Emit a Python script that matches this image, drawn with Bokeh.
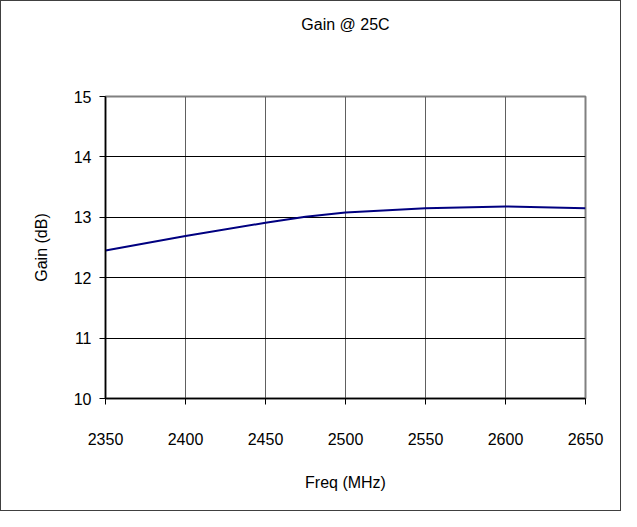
from bokeh.plotting import figure
from bokeh.models import Range1d, FixedTicker, LinearAxis
from bokeh.embed import file_html
from bokeh.resources import INLINE

freq = [2350, 2400, 2450, 2475, 2500, 2550, 2600, 2650]
gain = [12.45, 12.69, 12.91, 13.01, 13.08, 13.15, 13.18, 13.15]
x_ticks = [2350, 2400, 2450, 2500, 2550, 2600, 2650]
y_ticks = [10, 11, 12, 13, 14, 15]
chart_title = "Gain @ 25C"

FONT = "Liberation Sans"

p = figure(width=619, height=509, output_backend="svg", toolbar_location=None,
           x_range=Range1d(2350, 2650), y_range=Range1d(10, 15),
           min_border_left=104, min_border_right=35, min_border_top=95, min_border_bottom=112)
p.frame_width = 480
p.frame_height = 302

p.background_fill_color = "white"
p.border_fill_color = "white"
p.outline_line_color = "#808080"
p.outline_line_width = 2
p.styles = {"border": "1px solid #404040"}

xaxis = p.below[0]
yaxis = p.left[0]

for ax in (xaxis, yaxis):
    ax.axis_line_color = "black"
    ax.axis_line_width = 1.5
    ax.major_tick_line_color = "black"
    ax.major_tick_out = 6
    ax.major_tick_in = 0
    ax.minor_tick_line_color = None
    ax.major_label_text_font = FONT
    ax.major_label_text_font_size = "16px"
    ax.major_label_text_color = "black"
    ax.axis_label_text_font = FONT
    ax.axis_label_text_font_size = "16px"
    ax.axis_label_text_font_style = "normal"
    ax.axis_label_text_color = "black"

xaxis.ticker = FixedTicker(ticks=x_ticks)
yaxis.ticker = FixedTicker(ticks=y_ticks)
xaxis.axis_label = "Freq (MHz)"
yaxis.axis_label = "Gain (dB)"
xaxis.major_label_standoff = 28
xaxis.axis_label_standoff = 26
yaxis.major_label_standoff = 8
yaxis.axis_label_standoff = 21

# chart title, drawn as the label of a bare axis above the plot area
title_axis = LinearAxis(ticker=FixedTicker(ticks=[]), axis_label=chart_title,
                        axis_line_color=None, major_tick_line_color=None,
                        minor_tick_line_color=None, major_tick_out=0, major_tick_in=0,
                        major_label_standoff=0, axis_label_standoff=64,
                        axis_label_text_font=FONT, axis_label_text_font_size="16px",
                        axis_label_text_font_style="normal", axis_label_text_color="black")
p.add_layout(title_axis, "above")

p.line(freq, gain, line_color="#000080", line_width=2)

p.xgrid.ticker = FixedTicker(ticks=x_ticks)
p.ygrid.ticker = FixedTicker(ticks=y_ticks)
p.xgrid.grid_line_color = "#606060"
p.ygrid.grid_line_color = "black"
p.grid.grid_line_width = 1

open("out.html", "w").write(file_html(p, INLINE))
